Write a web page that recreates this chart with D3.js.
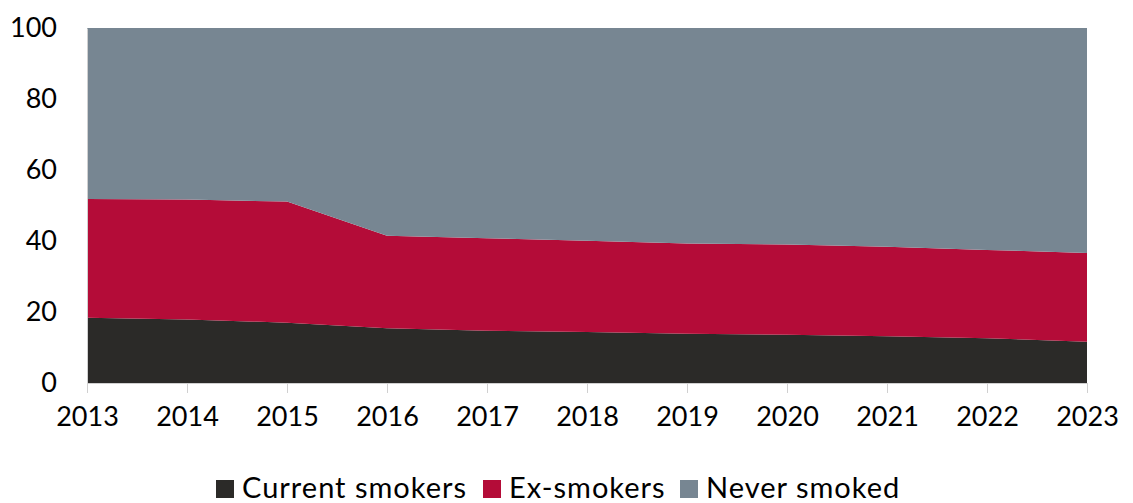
<!DOCTYPE html>
<html><head><meta charset="utf-8">
<script src="https://cdn.jsdelivr.net/npm/d3@7"></script>
<style>body{margin:0;background:#fff;}svg{display:block;font-family:Lato,"Open Sans",sans-serif;}</style>
</head><body><svg id="c" width="1133" height="503"></svg>
<script>
const years = [2013,2014,2015,2016,2017,2018,2019,2020,2021,2022,2023];
const currentSmokers = [18.4,17.9,17.0,15.4,14.7,14.4,13.9,13.6,13.2,12.6,11.6];
const exSmokers = [33.4,33.8,34.1,26.1,26.1,25.7,25.4,25.4,25.2,24.9,25.0];
const neverSmoked = years.map((y,i)=>+(100-currentSmokers[i]-exSmokers[i]).toFixed(1));
const seriesNames = ["Current smokers","Ex-smokers","Never smoked"];
const colors = ["#2b2a28","#b40c38","#778692"];
const yTicks = [0,20,40,60,80,100];

const rows = years.map((y,i)=>({year:y,"Current smokers":currentSmokers[i],"Ex-smokers":exSmokers[i],"Never smoked":neverSmoked[i]}));
const svg = d3.select("#c");
const m = {l:87,r:1087,t:28,b:383};
const x = d3.scaleLinear().domain([2013,2023]).range([m.l,m.r]);
const y = d3.scaleLinear().domain([0,100]).range([m.b,m.t]);
const stack = d3.stack().keys(seriesNames)(rows);
const area = d3.area().x(d=>x(d.data.year)).y0(d=>y(d[0])).y1(d=>y(Math.min(100,d[1])));
svg.append("g").selectAll("path").data(stack).join("path")
  .attr("d",area).attr("fill",(d,i)=>colors[i]);

// y axis
const ya = svg.append("g").attr("transform",`translate(${m.l},0)`)
  .call(d3.axisLeft(y).tickValues(yTicks).tickSize(0).tickPadding(30));
ya.select(".domain").attr("stroke","#d0d0d0");
ya.selectAll("text").attr("font-size",27).attr("fill","#000").attr("font-family","Lato");

// x axis
const xa = svg.append("g").attr("transform",`translate(0,${m.b})`)
  .call(d3.axisBottom(x).tickValues(years).tickFormat(d3.format("d")).tickSize(10).tickSizeOuter(0).tickPadding(14));
xa.select(".domain").attr("stroke","#d0d0d0");
xa.selectAll(".tick line").attr("stroke","#d0d0d0");
xa.selectAll("text").attr("font-size",27).attr("fill","#000").attr("font-family","Lato");

// legend
const leg = svg.append("g");
const items = [{n:seriesNames[0],x:216},{n:seriesNames[1],x:483},{n:seriesNames[2],x:680}];
items.forEach((it,i)=>{
  leg.append("rect").attr("x",it.x).attr("y",480).attr("width",18).attr("height",18).attr("fill",colors[i]);
  leg.append("text").attr("x",it.x+26).attr("y",498).attr("font-size",29).attr("letter-spacing",1).attr("fill","#000").text(it.n);
});
</script></body></html>
